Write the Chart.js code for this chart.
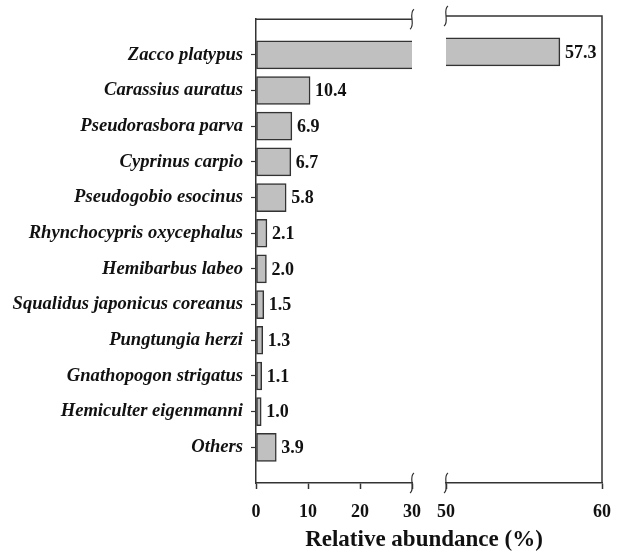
<!DOCTYPE html>
<html lang="en">
<head>
  <meta charset="UTF-8" />
  <title>Relative abundance</title>
  <style>
    body { margin: 0; background: white; font-family: "Liberation Serif", serif; }
    .wrap { position: relative; width: 622px; height: 555px; }
    #leftChart { position: absolute; left: 0; top: 0; }
    #rightChart { position: absolute; left: 430px; top: 0; }
    .title { position: absolute; left: 251px; width: 346px; top: 526px; text-align: center;
             font: bold 23px "Liberation Serif", serif; color: #111; }
  </style>
</head>
<body>
  <div class="wrap">
    <canvas id="leftChart" width="430" height="555"></canvas>
    <canvas id="rightChart" width="192" height="555"></canvas>
    <div class="title">Relative abundance (%)</div>
  </div>

  <script src="https://cdn.jsdelivr.net/npm/chart.js"></script>
  <script>
    const species = ['Zacco platypus', 'Carassius auratus', 'Pseudorasbora parva', 'Cyprinus carpio',
      'Pseudogobio esocinus', 'Rhynchocypris oxycephalus', 'Hemibarbus labeo',
      'Squalidus japonicus coreanus', 'Pungtungia herzi', 'Gnathopogon strigatus',
      'Hemiculter eigenmanni', 'Others'];
    const abundance = [57.3, 10.4, 6.9, 6.7, 5.8, 2.1, 2.0, 1.5, 1.3, 1.1, 1.0, 3.9];
    const leftRange = [0, 30];
    const rightRange = [50, 60];

    const axisColor = '#333';
    // blank slots top and bottom keep the gap above the first bar and below the last
    const labels = [''].concat(species, ['']);
    const values = [null].concat(abundance, [null]);

    function squiggle(ctx, x, y) {
      ctx.beginPath();
      ctx.moveTo(x + 2, y - 10);
      ctx.bezierCurveTo(x - 4, y - 6, x + 4, y + 6, x - 2, y + 10);
      ctx.stroke();
    }

    function framePlugin(side) {
      return {
        id: 'frame',
        afterDraw(chart) {
          const ctx = chart.ctx;
          const a = chart.chartArea;
          ctx.save();
          ctx.strokeStyle = axisColor;
          ctx.lineWidth = 1.5;
          ctx.beginPath();
          ctx.moveTo(a.left, a.top);
          ctx.lineTo(a.right, a.top);
          if (side === 'right') {
            ctx.lineTo(a.right, a.bottom);
          }
          ctx.stroke();
          ctx.lineWidth = 1.2;
          const bx = side === 'left' ? a.right : a.left;
          squiggle(ctx, bx, a.top);
          squiggle(ctx, bx, a.bottom);
          ctx.restore();
        }
      };
    }

    const valueLabels = {
      id: 'valueLabels',
      afterDatasetsDraw(chart) {
        const ctx = chart.ctx;
        const xs = chart.scales.x;
        const meta = chart.getDatasetMeta(0);
        ctx.save();
        ctx.font = 'bold 18px "Liberation Serif", serif';
        ctx.fillStyle = '#111';
        ctx.textBaseline = 'middle';
        meta.data.forEach((bar, i) => {
          const v = values[i];
          if (v === null || v < xs.min || v > xs.max) return;
          ctx.fillText(v.toFixed(1), bar.x + 5, bar.y + 1);
        });
        ctx.restore();
      }
    };

    function makeChart(id, range, side) {
      const isLeft = side === 'left';
      return new Chart(document.getElementById(id), {
        type: 'bar',
        data: {
          labels: labels,
          datasets: [{
            data: values,
            backgroundColor: '#c0c0c0',
            borderColor: '#333',
            borderWidth: 1.5,
            borderSkipped: false,
            barThickness: 28
          }]
        },
        options: {
          indexAxis: 'y',
          responsive: false,
          animation: false,
          layout: { padding: isLeft ? { top: 16, right: 18, left: 0, bottom: 0 } : { top: 16, right: 20, left: 16, bottom: 0 } },
          plugins: { legend: { display: false }, tooltip: { enabled: false } },
          scales: {
            x: {
              min: range[0],
              max: range[1],
              ticks: {
                stepSize: 10,
                color: '#111',
                padding: 13,
                font: { family: 'Liberation Serif', size: 18, weight: 'bold' }
              },
              grid: { drawOnChartArea: false, tickLength: 6, tickColor: axisColor, tickWidth: 1.5 },
              border: { color: axisColor, width: 1.5 },
              afterFit: s => { s.height = 72; s.paddingLeft = 0; s.paddingRight = 0; }
            },
            y: {
              display: isLeft,
              offset: false,
              ticks: {
                color: '#111',
                padding: 8,
                font: { family: 'Liberation Serif', size: 18.6, weight: 'bold', style: 'italic' }
              },
              grid: {
                offset: false,
                drawOnChartArea: false,
                tickLength: 5,
                tickWidth: 1.2,
                tickColor: c => (c.index === 0 || c.index === labels.length - 1) ? 'rgba(0,0,0,0)' : axisColor
              },
              border: { color: axisColor, width: 1.5 },
              afterFit: s => { s.width = isLeft ? 256 : 0; }
            }
          }
        },
        plugins: [framePlugin(side), valueLabels]
      });
    }

    makeChart('leftChart', leftRange, 'left');
    makeChart('rightChart', rightRange, 'right');
  </script>
</body>
</html>
